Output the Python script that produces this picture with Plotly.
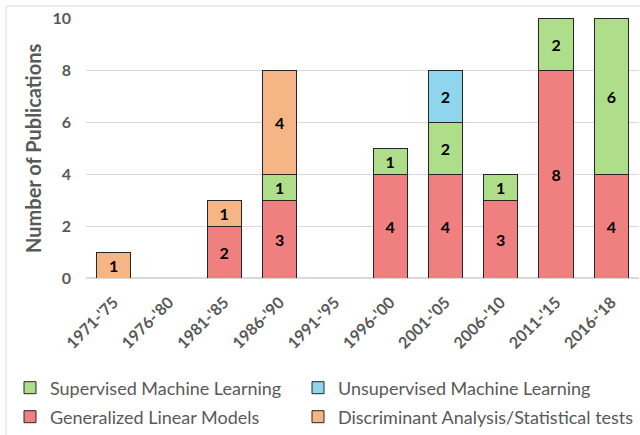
import plotly.graph_objects as go

categories = ["1971-'75", "1976-'80", "1981-'85", "1986-'90", "1991-'95",
              "1996-'00", "2001-'05", "2006-'10", "2011-'15", "2016-'18"]
glm = [0, 0, 2, 3, 0, 4, 4, 3, 8, 4]
supervised = [0, 0, 0, 1, 0, 1, 2, 1, 2, 6]
unsupervised = [0, 0, 0, 0, 0, 0, 2, 0, 0, 0]
discriminant = [1, 0, 1, 4, 0, 0, 0, 0, 0, 0]
y_ticks = [0, 2, 4, 6, 8, 10]
y_title = "Number of Publications"

series = [
    ("Generalized Linear Models", glm, "#F07F7F", "legend4"),
    ("Supervised Machine Learning", supervised, "#AFDE8B", "legend2"),
    ("Unsupervised Machine Learning", unsupervised, "#8FD5EE", "legend3"),
    ("Discriminant Analysis/Statistical tests", discriminant, "#F5B585", "legend5"),
]

fig = go.Figure()
for name, vals, color, lg in series:
    fig.add_trace(go.Bar(
        x=categories, y=[v if v else None for v in vals], name=name,
        marker=dict(color=color, line=dict(color="#262626", width=1)),
        text=[str(v) if v else "" for v in vals],
        textposition="inside", insidetextanchor="middle", textangle=0,
        constraintext="none",
        textfont=dict(family="Lato", size=16, color="black", weight="bold"),
        legend=lg, showlegend=True, hoverinfo="skip",
    ))

leg_font = dict(family="Lato", size=18, color="#595959")
def leg(x_px, y_px):
    return dict(xref="container", yref="container", x=x_px / 640, y=1 - y_px / 435,
                xanchor="left", yanchor="middle", font=leg_font,
                bgcolor="rgba(0,0,0,0)", itemwidth=30)

fig.update_layout(
    barmode="stack", bargap=0.38,
    width=640, height=435,
    margin=dict(l=86, r=1, t=18, b=157, autoexpand=False),
    plot_bgcolor="white", paper_bgcolor="white",
    font=dict(family="Lato", color="#595959"),
    xaxis=dict(tickangle=-45, tickfont=dict(size=16, weight="bold", color="#595959"),
               showgrid=False, showline=False, ticks="", ticklabelstandoff=11),
    yaxis=dict(range=[0, 10], tickvals=y_ticks, showgrid=True, gridcolor="#D9D9D9",
               gridwidth=1, zeroline=True, zerolinecolor="#D9D9D9",
               ticklabelstandoff=14,
               tickfont=dict(size=16, weight="bold", color="#595959")),
    legend2=leg(10, 388),
    legend3=leg(298, 388),
    legend4=leg(10, 417),
    legend5=leg(298, 417),
    annotations=[dict(text=y_title, xref="paper", yref="paper", x=-0.096, y=0.5,
                      textangle=-90, showarrow=False, xanchor="center", yanchor="middle",
                      font=dict(size=20, weight="bold", color="#595959"))],
    shapes=[dict(type="rect", xref="paper", yref="paper", x0=-0.1447, x1=1.2,
                 y0=-1.0, y1=1.046, line=dict(color="#D9D9D9", width=1))],
)

fig.write_html("out.html", config={"displayModeBar": False},
               post_script="document.body.style.margin='0';")
